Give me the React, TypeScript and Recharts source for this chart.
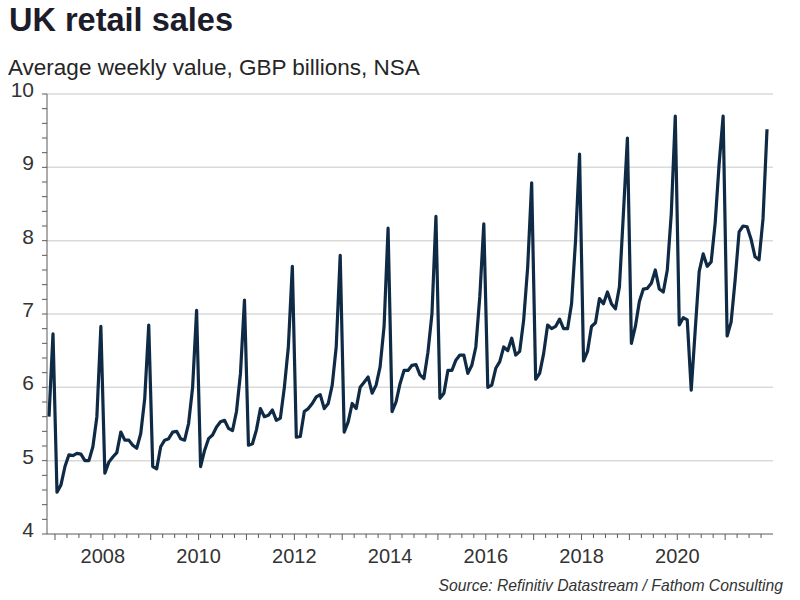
import React from "react";
import { LineChart, Line, XAxis, YAxis, ReferenceLine } from "recharts";

// Series starts in Nov 2006; one row per calendar year (GBP bn, average weekly value, NSA)
const startYear = 2006;
const startMonth = 11;

const sales: number[][] = [
  [5.6, 6.73], // 2006 Nov-Dec
  [4.57, 4.67, 4.92, 5.08, 5.07, 5.1, 5.09, 5.0, 5.0, 5.19, 5.6, 6.83],
  [4.83, 4.98, 5.05, 5.11, 5.39, 5.28, 5.28, 5.21, 5.17, 5.37, 5.85, 6.85],
  [4.92, 4.89, 5.19, 5.28, 5.3, 5.39, 5.4, 5.3, 5.28, 5.51, 6.0, 7.05],
  [4.92, 5.14, 5.3, 5.35, 5.46, 5.53, 5.55, 5.44, 5.41, 5.67, 6.19, 7.19],
  [5.21, 5.23, 5.42, 5.71, 5.6, 5.62, 5.69, 5.55, 5.58, 6.0, 6.55, 7.65],
  [5.32, 5.33, 5.67, 5.71, 5.78, 5.87, 5.9, 5.71, 5.78, 6.03, 6.55, 7.8],
  [5.39, 5.53, 5.78, 5.71, 6.0, 6.07, 6.14, 5.92, 6.03, 6.28, 6.83, 8.17],
  [5.67, 5.8, 6.05, 6.23, 6.23, 6.3, 6.31, 6.17, 6.12, 6.48, 7.0, 8.33],
  [5.85, 5.92, 6.23, 6.23, 6.37, 6.44, 6.44, 6.19, 6.3, 6.55, 7.24, 8.23],
  [6.0, 6.03, 6.26, 6.35, 6.55, 6.5, 6.67, 6.44, 6.49, 6.92, 7.64, 8.79],
  [6.11, 6.19, 6.46, 6.85, 6.8, 6.83, 6.93, 6.8, 6.8, 7.14, 8.0, 9.18],
  [6.36, 6.49, 6.83, 6.88, 7.21, 7.14, 7.3, 7.14, 7.07, 7.37, 8.37, 9.4],
  [6.6, 6.83, 7.17, 7.34, 7.35, 7.42, 7.6, 7.34, 7.3, 7.6, 8.37, 9.7],
  [6.85, 6.95, 6.92, 5.96, 6.78, 7.58, 7.82, 7.65, 7.71, 8.24, 9.05, 9.7],
  [6.7, 6.89, 7.46, 8.12, 8.2, 8.19, 8.02, 7.78, 7.74, 8.3, 9.52], // 2021 Jan-Nov
];

const yearLabels = [2008, 2010, 2012, 2014, 2016, 2018, 2020];
const gridValues = [5, 6, 7, 8, 9, 10];

// points sit mid-month on a decimal-year axis
const data = sales.flat().map((value, i) => ({
  t: startYear + (startMonth - 1 + i + 0.5) / 12,
  value,
}));

const quarterTicks = Array.from({ length: 60 }, (_, i) => 2007 + i * 0.25);
const yTicks = Array.from({ length: 31 }, (_, i) => Math.round((4 + i * 0.2) * 10) / 10);

const FONT = '"Liberation Sans", Arial, sans-serif';
const AXIS = "#5a5a5a";
const LABEL = "#333333";

const isWhole = (v: number) => Math.abs(v - Math.round(v)) < 1e-6;

const XTick = ({ x, y, payload }: any) => {
  const v = payload.value as number;
  const year = Math.round(v);
  const major = isWhole(v);
  return (
    <g>
      <line x1={x} x2={x} y1={y} y2={y + (major ? 6 : 4)} stroke={AXIS} />
      {major && yearLabels.includes(year) && (
        <text x={x} y={y + 29} textAnchor="middle" fontSize={20} fontFamily={FONT} fill={LABEL}>
          {year}
        </text>
      )}
    </g>
  );
};

const YTick = ({ x, y, payload }: any) => {
  const v = payload.value as number;
  return (
    <g>
      <line x1={x - 5} x2={x} y1={y} y2={y} stroke={AXIS} />
      {isWhole(v) && (
        <text x={x - 13} y={y + 3} textAnchor="end" fontSize={21} fontFamily={FONT} fill={LABEL}>
          {Math.round(v)}
        </text>
      )}
    </g>
  );
};

export default function App() {
  return (
    <div style={{ position: "absolute", left: 0, top: 0, width: 800, height: 600, background: "#fff" }}>
      <LineChart width={800} height={600} data={data} margin={{ top: 94, right: 27, left: 7, bottom: 36 }}>
        {gridValues.map((v) => (
          <ReferenceLine key={v} y={v} stroke="#dadada" strokeWidth={1.5} />
        ))}
        <XAxis
          type="number"
          dataKey="t"
          domain={[2006.833, 2022]}
          ticks={quarterTicks}
          interval={0}
          height={30}
          tickSize={0}
          tickMargin={0}
          tickLine={false}
          axisLine={{ stroke: AXIS }}
          tick={(p: any) => <XTick {...p} />}
        />
        <YAxis
          type="number"
          domain={[4, 10]}
          ticks={yTicks}
          interval={0}
          width={40}
          tickSize={0}
          tickMargin={0}
          tickLine={false}
          axisLine={{ stroke: AXIS }}
          tick={(p: any) => <YTick {...p} />}
        />
        <Line
          type="linear"
          dataKey="value"
          stroke="#0f2a45"
          strokeWidth={3.2}
          strokeLinejoin="round"
          dot={false}
          isAnimationActive={false}
        />
      </LineChart>
      <svg
        width={800}
        height={600}
        style={{ position: "absolute", left: 0, top: 0, pointerEvents: "none" }}
      >
        <text x={9} y={31} fontSize={32.5} fontWeight="bold" fontFamily={FONT} fill="#1c1c2a">
          UK retail sales
        </text>
        <text x={8} y={75} fontSize={22.5} fontFamily={FONT} fill="#262626">
          Average weekly value, GBP billions, NSA
        </text>
        <text
          x={783}
          y={591}
          textAnchor="end"
          fontSize={15.7}
          fontStyle="italic"
          fontFamily={FONT}
          fill={LABEL}
        >
          Source: Refinitiv Datastream / Fathom Consulting
        </text>
      </svg>
    </div>
  );
}
